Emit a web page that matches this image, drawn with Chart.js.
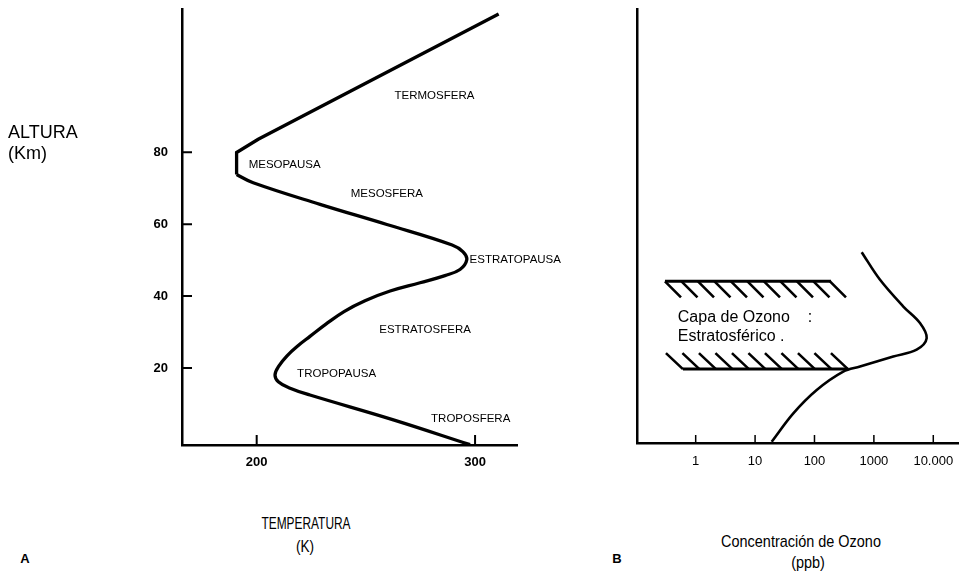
<!DOCTYPE html>
<html>
<head>
<meta charset="utf-8">
<script src="https://cdn.jsdelivr.net/npm/chart.js@4.4.0/dist/chart.umd.min.js"></script>
<style>
  html, body { margin: 0; padding: 0; background: #fff; }
  body { width: 959px; height: 571px; position: relative; overflow: hidden;
         font-family: "Liberation Sans", Arial, sans-serif; color: #000; }
  canvas { position: absolute; top: 0; }
  #tempChart { left: 0; }
  #ozoneChart { left: 600px; }
  .lbl { position: absolute; transform: translate(-50%, -50%); white-space: nowrap; line-height: 1; }
  .left { transform: translate(0, -50%); }
</style>
</head>
<body>
<canvas id="tempChart" width="600" height="480"></canvas>
<canvas id="ozoneChart" width="359" height="480"></canvas>

<div class="lbl left" style="left:8px;top:132px;font-size:18px">ALTURA</div>
<div class="lbl left" style="left:8px;top:153px;font-size:18px">(Km)</div>
<div class="lbl" style="left:306px;top:523px;font-size:17px;transform:translate(-50%,-50%) scaleX(0.7)">TEMPERATURA</div>
<div class="lbl" style="left:305px;top:546px;font-size:17px;transform:translate(-50%,-50%) scaleX(0.8)">(K)</div>
<div class="lbl" style="left:25px;top:558px;font-size:13px;font-weight:bold">A</div>
<div class="lbl" style="left:617px;top:558px;font-size:13px;font-weight:bold">B</div>
<div class="lbl" style="left:801px;top:541px;font-size:17px;transform:translate(-50%,-50%) scaleX(0.85)">Concentración de Ozono</div>
<div class="lbl" style="left:808px;top:562px;font-size:17px;transform:translate(-50%,-50%) scaleX(0.85)">(ppb)</div>

<script>
// Panel A: temperature profile (K) vs altitude (km)
const tempLower = [297.7, 262.6, 224.4, 215.3, 209.9, 208.4, 210.2, 213.9, 218.9, 224.4, 231.7, 240.0, 249.6, 261.1, 274.8, 286.2, 293.1, 296.2, 294.5, 289.5, 259.6, 229, 198.4, 190.8];
const altLower  = [-1.3, 5.6, 12.5, 14.4, 16.2, 18.1, 20.6, 23.4, 26.2, 28.8, 32.2, 35.7, 38.7, 41.4, 43.7, 45.7, 47.4, 50.1, 52.3, 54.2, 59.9, 65.5, 71.5, 73.8];
const tempUpper = [190.8, 190.8, 200.7, 310.8];
const altUpper  = [73.8, 79.9, 83.6, 118.4];
const tempTicks = [200, 300];
const altTicks = [20, 40, 60, 80];

const regionLabels = ['TERMOSFERA', 'MESOPAUSA', 'MESOSFERA', 'ESTRATOPAUSA', 'ESTRATOSFERA', 'TROPOPAUSA', 'TROPOSFERA'];
const regionTemp = [281.4, 212.8, 259.6, 318.4, 277.1, 236.6, 298.0];
const regionAlt = [95.6, 76.6, 68.5, 50.1, 30.6, 18.5, 5.8];

// Panel B: ozone concentration (ppb) vs altitude (km)
const ozoneConc = [19, 44, 109, 305, 584, 2120, 5250, 7740, 5970, 3130, 1260, 623];
const ozoneAlt  = [-0.5, 7.4, 13.9, 19, 20.4, 23.2, 25.1, 28.3, 32.5, 37.1, 44.6, 52.2];
const ozoneTicks = [1, 10, 100, 1000, 10000];
const ozoneTickLabels = ['1', '10', '100', '1000', '10.000'];

// hatched ozone layer limits
const bandAlt = [44.1, 19.7];
const bandFrom = [0.304, 0.61];
const bandTo = [190, 371];
const noteLines = ['Capa de Ozono    :', 'Estratosférico .'];
const noteConc = 0.5;
const noteAlt = [34.0, 28.8];

const FONT = '"Liberation Sans", Arial, sans-serif';
const toPoints = (xs, ys) => xs.map((v, i) => ({ x: v, y: ys[i] }));

// no automatic label padding, the plot area is fixed
const noPad = s => { s.paddingLeft = 0; s.paddingRight = 0; s.paddingTop = 0; s.paddingBottom = 0; };

// small tick marks pointing into the plot
const innerTicks = {
  id: 'innerTicks',
  afterDraw(chart, args, opts) {
    const { ctx, chartArea: a, scales } = chart;
    ctx.save();
    ctx.strokeStyle = '#000';
    ctx.lineWidth = opts.width || 2;
    ctx.beginPath();
    if (opts.x) scales.x.ticks.forEach(t => {
      const px = scales.x.getPixelForValue(t.value);
      ctx.moveTo(px, a.bottom);
      ctx.lineTo(px, a.bottom - opts.x);
    });
    if (opts.y) scales.y.ticks.forEach(t => {
      const py = scales.y.getPixelForValue(t.value);
      ctx.moveTo(a.left, py);
      ctx.lineTo(a.left + opts.y, py);
    });
    ctx.stroke();
    ctx.restore();
  }
};

const regionLabelPlugin = {
  id: 'regionLabels',
  afterDatasetsDraw(chart) {
    const { ctx, scales: { x, y } } = chart;
    ctx.save();
    ctx.fillStyle = '#000';
    ctx.font = '11.5px ' + FONT;
    ctx.textAlign = 'center';
    ctx.textBaseline = 'middle';
    regionLabels.forEach((t, i) => {
      ctx.fillText(t, x.getPixelForValue(regionTemp[i]), y.getPixelForValue(regionAlt[i]));
    });
    ctx.restore();
  }
};

const bandPlugin = {
  id: 'ozoneBand',
  afterDatasetsDraw(chart) {
    const { ctx, scales: { x, y } } = chart;
    ctx.save();
    ctx.strokeStyle = '#000';
    bandAlt.forEach((alt, i) => {
      const x0 = x.getPixelForValue(bandFrom[i]);
      const x1 = x.getPixelForValue(bandTo[i]);
      const py = y.getPixelForValue(alt);
      ctx.lineWidth = 3;
      ctx.beginPath();
      ctx.moveTo(x0, py);
      ctx.lineTo(x1, py);
      ctx.stroke();
      ctx.lineWidth = 2.6;
      ctx.beginPath();
      for (let hx = x0; hx <= x1 + 1; hx += 16.5) {
        if (i === 0) { ctx.moveTo(hx, py); ctx.lineTo(hx + 16, py + 16); }
        else { ctx.moveTo(hx - 17, py - 16); ctx.lineTo(hx, py); }
      }
      ctx.stroke();
    });
    ctx.fillStyle = '#000';
    ctx.font = '16px ' + FONT;
    ctx.textAlign = 'left';
    ctx.textBaseline = 'middle';
    noteLines.forEach((t, i) => {
      ctx.fillText(t, x.getPixelForValue(noteConc), y.getPixelForValue(noteAlt[i]));
    });
    ctx.restore();
  }
};

const lineStyle = { showLine: true, borderColor: '#000', pointRadius: 0, fill: false };

// Temperature chart
const tempCtx = document.getElementById('tempChart').getContext('2d');
const tempChart = new Chart(tempCtx, {
  type: 'scatter',
  data: {
    datasets: [
      { ...lineStyle, data: toPoints(tempLower, altLower), borderWidth: 3.3, tension: 0.4 },
      { ...lineStyle, data: toPoints(tempUpper, altUpper), borderWidth: 3.3, tension: 0 },
    ],
  },
  options: {
    responsive: false,
    animation: false,
    devicePixelRatio: 1,
    layout: { padding: { left: 0, right: 83, top: 9, bottom: 0 } },
    plugins: { legend: { display: false }, tooltip: { enabled: false }, innerTicks: { x: 10, y: 10, width: 2 } },
    scales: {
      x: {
        type: 'linear', min: 165.8, max: 319.2,
        afterBuildTicks: s => { s.ticks = tempTicks.map(v => ({ value: v })); },
        afterFit: s => { s.height = 35; noPad(s); },
        grid: { drawOnChartArea: false, drawTicks: false },
        border: { color: '#000', width: 2.5 },
        ticks: { padding: 10, color: '#000', autoSkip: false, maxRotation: 0,
                 font: { family: FONT, size: 13, weight: 'bold' } },
      },
      y: {
        type: 'linear', min: -1.39, max: 119.8,
        afterBuildTicks: s => { s.ticks = altTicks.map(v => ({ value: v })); },
        afterFit: s => { s.width = 182; noPad(s); },
        grid: { drawOnChartArea: false, drawTicks: false },
        border: { color: '#000', width: 2.5 },
        ticks: { padding: 14, color: '#000', autoSkip: false,
                 font: { family: FONT, size: 13, weight: 'bold' } },
      },
    },
  },
  plugins: [regionLabelPlugin, innerTicks],
});

// Ozone chart
const ozoneCtx = document.getElementById('ozoneChart').getContext('2d');
const ozoneChart = new Chart(ozoneCtx, {
  type: 'scatter',
  data: {
    datasets: [
      { ...lineStyle, data: toPoints(ozoneConc, ozoneAlt), borderWidth: 2.6, tension: 0.35 },
    ],
  },
  options: {
    responsive: false,
    animation: false,
    devicePixelRatio: 1,
    layout: { padding: { left: 0, right: 0, top: 9, bottom: 0 } },
    plugins: { legend: { display: false }, tooltip: { enabled: false }, innerTicks: { x: 8, width: 1.5 } },
    scales: {
      x: {
        type: 'logarithmic', min: 0.1028, max: 27100,
        afterBuildTicks: s => { s.ticks = ozoneTicks.map(v => ({ value: v })); },
        afterFit: s => { s.height = 37; noPad(s); },
        grid: { drawOnChartArea: false, drawTicks: false },
        border: { color: '#000', width: 2.5 },
        ticks: { padding: 11, color: '#000', autoSkip: false, maxRotation: 0,
                 font: { family: FONT, size: 13 },
                 callback: v => ozoneTickLabels[ozoneTicks.indexOf(v)] },
      },
      y: {
        type: 'linear', min: -0.84, max: 119.8,
        afterFit: s => { s.width = 37; noPad(s); },
        grid: { drawOnChartArea: false, drawTicks: false },
        border: { color: '#000', width: 2.5 },
        ticks: { display: false },
      },
    },
  },
  plugins: [bandPlugin, innerTicks],
});
</script>
</body>
</html>
